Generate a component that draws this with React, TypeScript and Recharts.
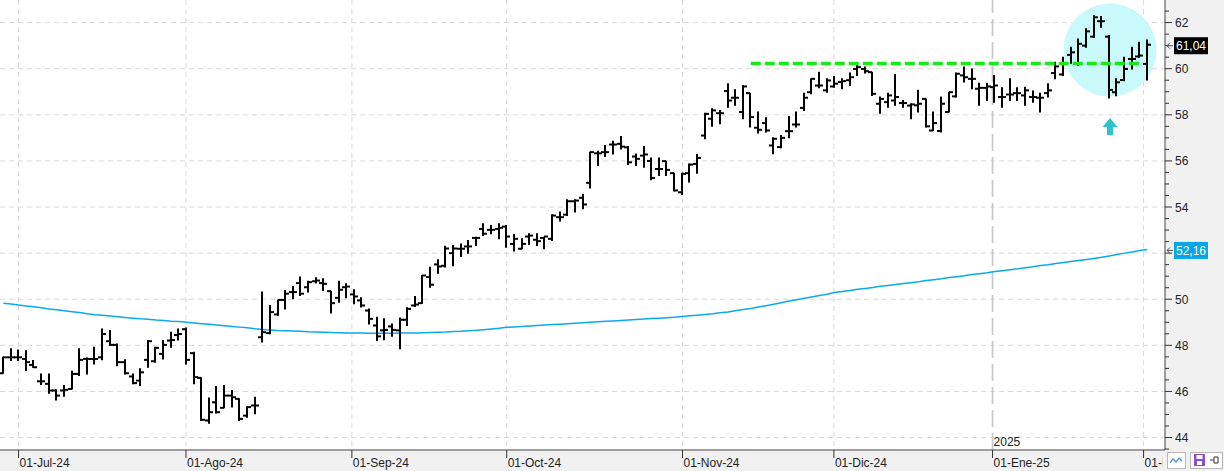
import React from 'react'
import {
  ComposedChart,
  Bar,
  Line,
  XAxis,
  YAxis,
  CartesianGrid,
  ReferenceLine,
  ReferenceDot
} from 'recharts'

// daily OHLC, one entry per session (index 0 = last days of June 2024)
const opens = [
  46.79, 47.48, 47.48, 47.41, 47.15, 46.44, 46.33, 46.04, 46.04, 46.11,
  46.76, 47.41, 47.41, 47.48, 48.18, 48.02, 47.27, 46.65, 46.47, 47.37,
  47.31, 47.63, 48.21, 48.45, 48.70, 47.66, 46.59, 44.74, 45.53, 45.29,
  45.82, 45.68, 44.95, 45.39, 48.35, 48.53, 49.34, 49.97, 50.31, 50.70,
  50.52, 50.78, 50.70, 50.35, 50.06, 50.52, 50.21, 49.95, 49.51, 48.86,
  48.65, 48.82, 48.65, 49.11, 49.73, 49.83, 50.96, 51.51, 51.45, 52.00,
  52.19, 52.29, 52.66, 53.05, 53.01, 53.05, 53.15, 52.40, 52.19, 52.72,
  52.58, 52.66, 52.62, 53.56, 53.67, 54.25, 54.40, 55.05, 56.33, 56.38,
  56.71, 56.74, 56.59, 56.19, 56.23, 56.00, 55.65, 55.99, 55.47, 54.64,
  55.47, 55.87, 57.10, 57.83, 58.07, 59.03, 58.74, 58.12, 58.94, 57.44,
  57.64, 56.67, 56.60, 57.29, 57.58, 58.30, 58.98, 59.27, 59.06, 59.23,
  59.42, 59.50, 59.99, 59.99, 59.85, 58.48, 58.55, 58.62, 58.51, 58.40,
  58.41, 58.69, 57.32, 57.30, 58.12, 58.80, 59.71, 59.56, 59.13, 59.17,
  59.20, 58.77, 58.88, 58.94, 58.84, 58.77, 58.74, 58.94, 59.81, 59.75,
  60.60, 60.24, 61.00, 61.39, 62.06, 61.39, 58.98, 59.51, 60.42, 60.53, 60.21
]
const highs = [
  47.48, 47.85, 47.80, 47.77, 47.34, 46.76, 46.76, 46.07, 46.26, 46.88,
  47.85, 47.45, 47.92, 48.71, 48.64, 48.06, 47.37, 46.76, 46.98, 48.21,
  47.92, 48.21, 48.57, 48.71, 48.75, 47.70, 46.59, 45.72, 46.21, 46.26,
  46.04, 45.68, 45.34, 45.75, 50.31, 49.73, 49.97, 50.38, 50.55, 50.96,
  50.78, 50.93, 50.89, 50.35, 50.78, 50.67, 50.41, 50.06, 49.58, 49.22,
  49.15, 48.93, 49.19, 49.63, 50.12, 51.03, 51.39, 51.71, 52.30, 52.33,
  52.40, 52.55, 52.69, 53.27, 53.20, 53.27, 53.20, 52.81, 52.62, 52.84,
  52.84, 52.69, 53.66, 53.78, 54.31, 54.31, 54.54, 56.38, 56.42, 56.67,
  56.85, 57.06, 56.62, 56.30, 56.62, 56.13, 56.13, 55.99, 55.47, 55.47,
  55.87, 56.28, 58.07, 58.26, 58.19, 59.35, 59.09, 59.27, 58.94, 58.12,
  57.87, 57.00, 57.10, 57.93, 58.12, 58.94, 59.56, 59.85, 59.56, 59.66,
  59.56, 59.81, 60.24, 60.07, 59.85, 58.77, 58.94, 59.75, 58.62, 58.48,
  59.06, 58.69, 58.12, 58.77, 58.98, 59.81, 60.07, 59.99, 59.37, 59.37,
  59.71, 59.17, 59.56, 59.17, 59.20, 59.03, 58.94, 59.35, 60.28, 60.50,
  60.93, 61.29, 61.73, 62.30, 62.26, 61.44, 59.56, 60.50, 60.93, 61.15, 61.25
]
const lows = [
  46.79, 47.34, 47.34, 46.91, 47.05, 46.30, 45.92, 45.63, 45.79, 46.11,
  46.69, 46.76, 47.19, 47.37, 47.99, 47.12, 46.76, 46.33, 46.26, 47.05,
  47.27, 47.41, 47.92, 48.23, 47.19, 46.33, 44.74, 44.62, 45.06, 45.29,
  45.32, 44.74, 44.88, 45.03, 48.14, 48.50, 49.30, 49.58, 50.02, 50.16,
  50.31, 50.70, 50.38, 49.40, 49.87, 50.06, 49.80, 49.66, 48.93, 48.21,
  48.24, 48.39, 47.85, 48.86, 49.69, 49.83, 50.52, 51.13, 51.40, 51.45,
  51.85, 52.00, 52.33, 52.76, 52.84, 52.62, 52.26, 52.09, 52.19, 52.37,
  52.33, 52.19, 52.55, 53.39, 53.63, 53.78, 53.92, 54.83, 55.80, 56.19,
  56.30, 56.52, 55.84, 55.80, 55.73, 55.18, 55.37, 55.37, 54.69, 54.54,
  55.08, 55.47, 56.96, 57.50, 57.61, 58.33, 58.41, 57.83, 57.47, 57.21,
  57.25, 56.31, 56.57, 57.00, 57.47, 58.19, 58.91, 59.17, 58.98, 59.20,
  59.13, 59.27, 59.71, 59.81, 58.84, 58.07, 58.33, 58.41, 58.33, 57.83,
  58.12, 57.47, 57.32, 57.25, 58.12, 58.77, 59.42, 59.13, 58.41, 58.62,
  58.55, 58.33, 58.62, 58.62, 58.41, 58.55, 58.12, 58.77, 59.56, 59.71,
  60.24, 60.14, 60.93, 61.36, 61.80, 58.73, 58.83, 59.48, 59.99, 60.50, 59.51
]
const closes = [
  47.48, 47.48, 47.48, 47.27, 47.05, 46.44, 46.04, 45.82, 46.07, 46.76,
  47.37, 47.41, 47.41, 48.49, 48.02, 47.27, 46.79, 46.36, 46.83, 48.18,
  47.89, 48.02, 48.23, 48.49, 47.37, 46.62, 44.77, 45.10, 45.10, 45.82,
  45.75, 44.81, 45.32, 45.39, 48.57, 49.44, 49.97, 50.24, 50.31, 50.24,
  50.74, 50.81, 50.67, 49.83, 50.41, 50.55, 50.12, 49.73, 49.15, 48.39,
  48.67, 48.67, 49.11, 49.58, 49.77, 51.03, 50.63, 51.42, 52.20, 52.20,
  52.19, 52.29, 52.66, 52.84, 53.01, 53.10, 52.72, 52.62, 52.40, 52.76,
  52.52, 52.72, 53.63, 53.56, 54.25, 54.28, 54.11, 56.38, 56.33, 56.38,
  56.71, 56.62, 55.94, 56.09, 56.28, 55.26, 55.65, 55.61, 54.72, 55.44,
  55.84, 56.13, 58.04, 58.19, 58.07, 58.62, 58.74, 59.23, 57.90, 57.35,
  57.32, 56.96, 57.00, 57.29, 57.58, 58.74, 59.56, 59.27, 59.49, 59.35,
  59.46, 59.63, 60.07, 59.89, 58.91, 58.69, 58.84, 58.77, 58.51, 58.45,
  58.48, 57.50, 57.64, 58.48, 58.98, 59.78, 59.63, 59.56, 59.17, 59.23,
  59.27, 58.77, 58.88, 58.94, 59.06, 58.77, 58.74, 59.06, 60.10, 60.21,
  60.71, 61.08, 61.62, 62.23, 62.06, 59.08, 59.41, 59.99, 60.42, 60.57, 61.04
]
// long moving average (blue line)
const movAvg = [
  49.83, 49.79, 49.75, 49.71, 49.67, 49.63, 49.58, 49.54, 49.50, 49.46, 49.42, 49.37, 49.33,
  49.30, 49.27, 49.24, 49.21, 49.18, 49.15, 49.13, 49.10, 49.08, 49.05, 49.03, 49.00,
  48.97, 48.94, 48.91, 48.88, 48.85, 48.82, 48.79, 48.76, 48.72, 48.69, 48.66, 48.64,
  48.63, 48.62, 48.61, 48.59, 48.58, 48.57, 48.56, 48.55, 48.54,
  48.53, 48.53, 48.52, 48.52, 48.52, 48.52, 48.53, 48.53,
  48.54, 48.55, 48.56, 48.57, 48.58, 48.60, 48.61, 48.63,
  48.65, 48.68, 48.71, 48.74, 48.78,
  48.80, 48.82, 48.84, 48.86, 48.88, 48.90, 48.92, 48.94, 48.96, 48.98, 49.00, 49.02, 49.04, 49.06, 49.08,
  49.10, 49.12, 49.14, 49.16, 49.18, 49.20, 49.22, 49.25,
  49.28, 49.31, 49.34, 49.37, 49.41, 49.45, 49.50, 49.55, 49.60, 49.66,
  49.72, 49.78, 49.85, 49.92, 49.98, 50.04, 50.10, 50.16, 50.22, 50.29,
  50.34, 50.38, 50.43, 50.47, 50.51, 50.56, 50.60, 50.64,
  50.68, 50.72, 50.76, 50.81, 50.85, 50.89, 50.94, 50.98, 51.02, 51.07, 51.11, 51.15, 51.20,
  51.24, 51.28, 51.32, 51.37, 51.41, 51.46, 51.50, 51.55, 51.59, 51.64, 51.68, 51.72, 51.77,
  51.82, 51.88, 51.94, 52.00, 52.05, 52.11, 52.16
]

const monthTicks = [2, 23.95, 45.7, 66, 89.05, 108.9, 129.7, 149.5]
const monthLabels = ['01-Jul-24', '01-Ago-24', '01-Sep-24', '01-Oct-24', '01-Nov-24', '01-Dic-24', '01-Ene-25', '01-Feb-25']
const yearTick = 129.7
const yearLabel = '2025'
const yTicks = [
  43.5, 44, 44.5, 45, 45.5, 46, 46.5, 47, 47.5, 48, 48.5, 49, 49.5, 50, 50.5, 51, 51.5,
  52, 52.5, 53, 53.5, 54, 54.5, 55, 55.5, 56, 56.5, 57, 57.5, 58, 58.5, 59, 59.5, 60,
  60.5, 61, 61.5, 62, 62.5
]
const gridValues = [44, 46, 48, 50, 52, 54, 56, 58, 60, 62]

const lastPrice = 61.04
const lastPriceText = '61,04'
const lastAvg = 52.16
const lastAvgText = '52,16'
const resistance = 60.23
const resistanceFrom = 98
const resistanceTo = 149.2
const circleAt = { x: 145.1, y: 60.81 }
const arrowAt = { x: 145.1, y: 57.86 }

const FONT = "'Liberation Sans', Arial, sans-serif"

const data = opens.map((o, i) => ({
  i,
  open: o,
  high: highs[i],
  low: lows[i],
  close: closes[i],
  range: [lows[i], highs[i]],
  ma: movAvg[i]
}))

const OhlcBar = (props: any) => {
  const { x, y, width, height, payload } = props
  if (x == null || y == null) return null
  const top = Math.min(y, y + height)
  const h = Math.abs(height)
  const span = payload.high - payload.low
  const toY = (v: number) => (span > 0 ? top + ((payload.high - v) / span) * h : top)
  const cx = Math.round(x + width / 2)
  const oy = toY(payload.open)
  const cy = toY(payload.close)
  return (
    <g stroke="#000" strokeWidth={2} fill="none">
      <line x1={cx} x2={cx} y1={top - 0.5} y2={top + h + 0.5} />
      <line x1={cx - 4} x2={cx} y1={oy} y2={oy} />
      <line x1={cx} x2={cx + 4} y1={cy} y2={cy} />
    </g>
  )
}

// the price tags on the axis hide the round number underneath them
const hiddenByTag = (v: number) => Math.abs(v - lastAvg) < 0.45 || Math.abs(v - lastPrice) < 0.45

const YTick = ({ x, y, payload }: any) => {
  const v = payload.value
  const major = Math.abs(v % 2) < 1e-6
  return (
    <g>
      <line x1={x} x2={x + (major ? 7 : 4)} y1={y} y2={y} stroke="#333" />
      {major && !hiddenByTag(v) && (
        <text x={x + 10} y={y + 4.5} fontSize={12} fontFamily={FONT} fill="#222">
          {v}
        </text>
      )}
    </g>
  )
}

const XTick = ({ x, y, payload }: any) => {
  const k = monthTicks.indexOf(payload.value)
  const room = 1163 - x
  if (room <= 0) return null
  return (
    <svg x={x} y={y - 8} width={room} height={22} overflow="hidden">
      <text x={1} y={17} fontSize={12} fontFamily={FONT} fill="#222">
        {monthLabels[k]}
      </text>
    </svg>
  )
}

const PriceTag = ({ viewBox, text, bg }: any) => {
  if (!viewBox) return null
  const ax = viewBox.x + viewBox.width
  const cy = viewBox.y + 1
  return (
    <g>
      <path
        d={`M${ax + 2},${cy} l3,-3 M${ax + 2},${cy} l3,3 M${ax + 2},${cy} h6`}
        stroke="#555"
        fill="none"
      />
      <rect x={ax + 9} y={cy - 8.5} width={34} height={17} fill={bg} />
      <text x={ax + 11} y={cy + 4.5} fontSize={12} fontFamily={FONT} fill="#fff">
        {text}
      </text>
    </g>
  )
}

const YearLabel = ({ viewBox }: any) => {
  if (!viewBox) return null
  return (
    <text x={viewBox.x + 1} y={viewBox.y + viewBox.height - 4} fontSize={12} fontFamily={FONT} fill="#222">
      {yearLabel}
    </text>
  )
}

const UpArrow = ({ cx, cy }: any) => {
  if (cx == null) return null
  return (
    <path
      d={`M${cx},${cy} L${cx + 7.5},${cy + 9} L${cx + 3},${cy + 9} L${cx + 3},${cy + 17} L${cx - 3},${cy + 17} L${cx - 3},${cy + 9} L${cx - 7.5},${cy + 9} Z`}
      fill="#2cc4ca"
    />
  )
}

export default function App() {
  return (
    <div
      style={{
        position: 'absolute',
        left: 0,
        top: 0,
        width: 1224,
        height: 471,
        background: '#f1f1f2',
        overflow: 'hidden'
      }}
    >
      <ComposedChart width={1224} height={471} data={data} margin={{ top: 0, right: 0, bottom: 0, left: 0 }}>
        <CartesianGrid
          fill="#fff"
          stroke="#d9d9d9"
          strokeDasharray="5 4"
          horizontalValues={gridValues}
          verticalValues={monthTicks.filter((t) => t !== yearTick)}
        />
        <XAxis
          type="number"
          dataKey="i"
          domain={[-0.433, 152.31]}
          allowDataOverflow
          ticks={monthTicks}
          interval={0}
          height={21}
          tickSize={8}
          tickMargin={0}
          tickLine={{ stroke: '#333' }}
          axisLine={{ stroke: '#444' }}
          tick={<XTick />}
        />
        <YAxis
          orientation="right"
          type="number"
          domain={[43.46, 62.98]}
          allowDataOverflow
          ticks={yTicks}
          interval={0}
          width={59}
          tickSize={0}
          tickMargin={0}
          tickLine={false}
          axisLine={{ stroke: '#444' }}
          tick={<YTick />}
        />
        <ReferenceDot
          x={circleAt.x}
          y={circleAt.y}
          r={46.5}
          fill="#c9f9fb"
          stroke="none"
          ifOverflow="visible"
          zIndex={-50}
        />
        <ReferenceLine
          x={yearTick}
          stroke="#c8c8c8"
          strokeWidth={1.7}
          strokeDasharray="17 6"
          label={<YearLabel />}
          zIndex={-40}
        />
        <Line
          dataKey="ma"
          type="linear"
          stroke="#0aa9ee"
          strokeWidth={1.5}
          dot={false}
          activeDot={false}
          isAnimationActive={false}
          zIndex={250}
        />
        <Bar dataKey="range" barSize={8} shape={<OhlcBar />} isAnimationActive={false} />
        <ReferenceLine
          segment={[
            { x: resistanceFrom, y: resistance },
            { x: resistanceTo, y: resistance }
          ]}
          stroke="#14ec14"
          strokeWidth={3.5}
          strokeDasharray="10 4"
          zIndex={450}
        />
        <ReferenceDot
          x={arrowAt.x}
          y={arrowAt.y}
          r={8}
          shape={<UpArrow />}
          ifOverflow="visible"
        />
        <ReferenceLine
          y={lastPrice}
          stroke="none"
          ifOverflow="visible"
          zIndex={2100}
          label={<PriceTag text={lastPriceText} bg="#000" />}
        />
        <ReferenceLine
          y={lastAvg}
          stroke="none"
          ifOverflow="visible"
          zIndex={2100}
          label={<PriceTag text={lastAvgText} bg="#06a7e8" />}
        />
      </ComposedChart>
      <svg
        style={{ position: 'absolute', left: 0, top: 0, pointerEvents: 'none' }}
        width={1224}
        height={471}
      >
        <rect x={1167.5} y={452.5} width={18} height={16} fill="#fff" stroke="#b8b8b8" />
        <path d="M1170,463 l3,-4 l3,3 l3,-4 l3,3" stroke="#3d8fd9" fill="none" strokeWidth={1.2} />
        <rect x={1190.5} y={452.5} width={32} height={16} fill="#fff" stroke="#b8b8b8" />
        <rect x={1194} y={454} width={11} height={12} fill="#8c4fd0" />
        <rect x={1196.5} y={455} width={6} height={4} fill="#fff" />
        <rect x={1197} y={461} width={5} height={4} fill="#fff" />
        <path d="M1210,460 h4 M1214,457 v6 h4 v-6 z" stroke="#333" fill="none" />
      </svg>
    </div>
  )
}
